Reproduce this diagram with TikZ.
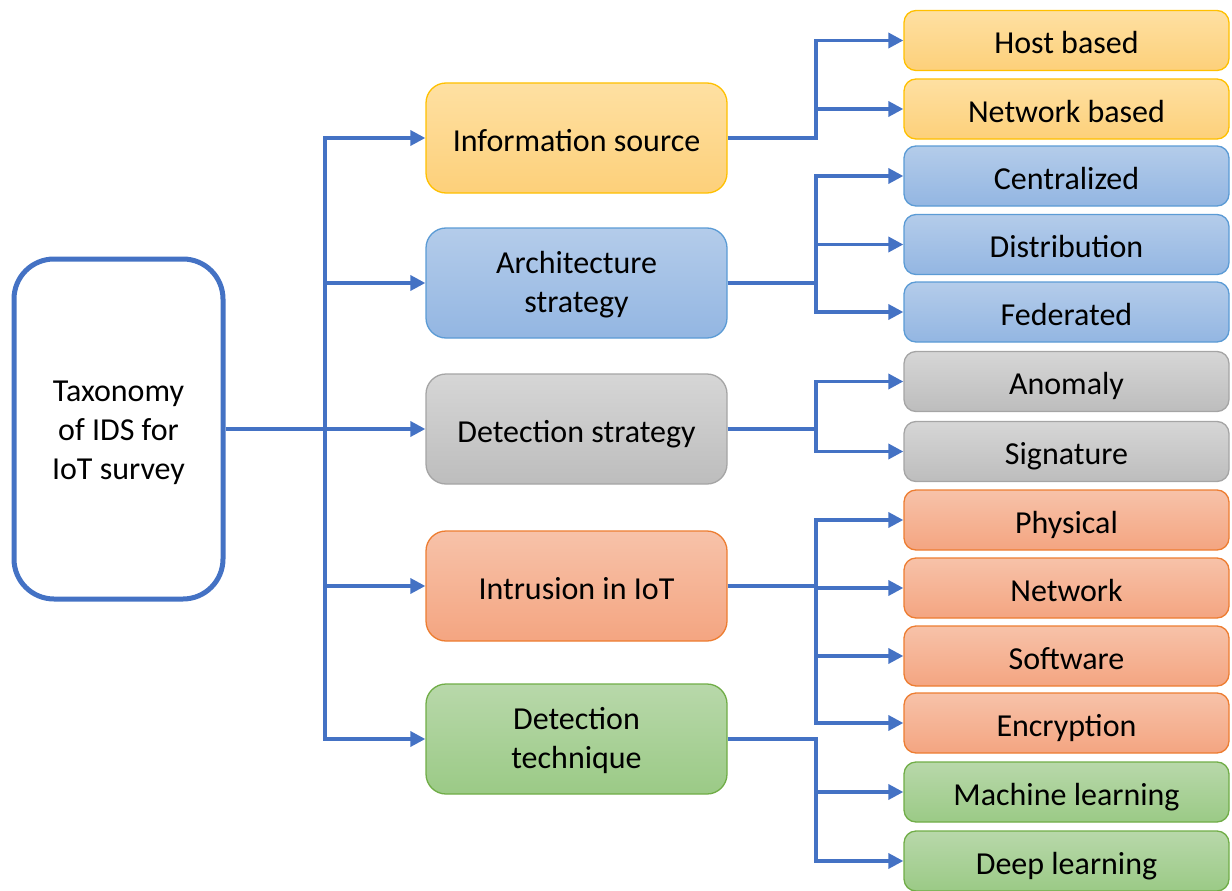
\documentclass[tikz,border=0pt]{standalone}
\usepackage{fontspec}
\setmainfont{Carlito}
\usetikzlibrary{arrows.meta}
\definecolor{connc}{HTML}{4472C4}
\definecolor{yelB}{HTML}{FFC000}\definecolor{yelT}{HTML}{FEE0A2}\definecolor{yelD}{HTML}{FDD07A}
\definecolor{bluB}{HTML}{5B9BD5}\definecolor{bluT}{HTML}{B4CCEA}\definecolor{bluD}{HTML}{93B6E2}
\definecolor{gryB}{HTML}{A5A5A5}\definecolor{gryT}{HTML}{D6D6D6}\definecolor{gryD}{HTML}{BDBDBD}
\definecolor{orgB}{HTML}{ED7D31}\definecolor{orgT}{HTML}{F7C2A9}\definecolor{orgD}{HTML}{F4A581}
\definecolor{grnB}{HTML}{70AD47}\definecolor{grnT}{HTML}{B8D8AA}\definecolor{grnD}{HTML}{9BCA86}
\begin{document}
\begin{tikzpicture}[x=1pt,y=-1pt,
  font=\fontsize{32}{39}\selectfont,
  box/.style={draw, line width=1.3pt, inner sep=0pt, align=center},
  oneline/.style={text height=28pt, text depth=2pt},
  twoline/.style={text height=62pt, text depth=4pt},
  midbox/.style={box, minimum width=301pt, minimum height=110pt, rounded corners=20pt},
  leafbox/.style={box, oneline, minimum width=325pt, minimum height=60pt, rounded corners=12pt},
  yel/.style={draw=yelB, top color=yelT, bottom color=yelD},
  blu/.style={draw=bluB, top color=bluT, bottom color=bluD},
  gry/.style={draw=gryB, top color=gryT, bottom color=gryD},
  org/.style={draw=orgB, top color=orgT, bottom color=orgD},
  grn/.style={draw=grnB, top color=grnT, bottom color=grnD},
  conn/.style={draw=connc, line width=3.5pt},
  arr/.style={conn, -{Triangle[length=15pt,width=15pt]}}]
\useasboundingbox (0,0) rectangle (1232,891);

\node[draw=connc, line width=5pt, rounded corners=40pt, minimum width=209pt,
      minimum height=340pt, align=center, fill=white, text height=104pt, text depth=4pt] (root) at (118.5,429)
      {Taxonomy\\of IDS for\\IoT survey};

\node[midbox,yel,oneline] (info) at (576.5,138) {Information source};
\node[midbox,blu,twoline] (arch) at (576.5,283) {Architecture\\strategy};
\node[midbox,gry,oneline] (dets) at (576.5,429) {Detection strategy};
\node[midbox,org,oneline] (intr) at (576.5,586) {Intrusion in IoT};
\node[midbox,grn,twoline] (tech) at (576.5,739) {Detection\\technique};

\node[leafbox,yel] (host) at (1066.5,40.5) {Host based};
\node[leafbox,yel] (netb) at (1066.5,109) {Network based};
\node[leafbox,blu] (cent) at (1066.5,176) {Centralized};
\node[leafbox,blu] (dist) at (1066.5,244.5) {Distribution};
\node[leafbox,blu] (fed)  at (1066.5,312) {Federated};
\node[leafbox,gry] (anom) at (1066.5,381.5) {Anomaly};
\node[leafbox,gry] (sig)  at (1066.5,451.5) {Signature};
\node[leafbox,org] (phys) at (1066.5,520) {Physical};
\node[leafbox,org] (netw) at (1066.5,588) {Network};
\node[leafbox,org] (soft) at (1066.5,656) {Software};
\node[leafbox,org] (enc)  at (1066.5,723) {Encryption};
\node[leafbox,grn] (ml)   at (1066.5,792) {Machine learning};
\node[leafbox,grn] (dl)   at (1066.5,861) {Deep learning};

\coordinate (trunk) at (325,0);
\coordinate (br) at (816,0);

% root to middle level
\draw[arr] (root.east) -- (trunk|-root.east) -- (trunk|-info.west) -- (info.west);
\draw[arr] (root.east) -- (trunk|-root.east) -- (trunk|-tech.west) -- (tech.west);
\draw[arr] (trunk|-arch.west) -- (arch.west);
\draw[arr] (trunk|-dets.west) -- (dets.west);
\draw[arr] (trunk|-intr.west) -- (intr.west);

% information source
\draw[arr] (info.east) -- (br|-info.east) -- (br|-host.west) -- (host.west);
\draw[arr] (br|-netb.west) -- (netb.west);

% architecture
\draw[arr] (arch.east) -- (br|-arch.east) -- (br|-cent.west) -- (cent.west);
\draw[arr] (arch.east) -- (br|-arch.east) -- (br|-fed.west) -- (fed.west);
\draw[arr] (br|-dist.west) -- (dist.west);

% detection strategy
\draw[arr] (dets.east) -- (br|-dets.east) -- (br|-anom.west) -- (anom.west);
\draw[arr] (dets.east) -- (br|-dets.east) -- (br|-sig.west) -- (sig.west);

% intrusion
\draw[arr] (intr.east) -- (br|-intr.east) -- (br|-phys.west) -- (phys.west);
\draw[arr] (intr.east) -- (br|-intr.east) -- (br|-enc.west) -- (enc.west);
\draw[arr] (br|-netw.west) -- (netw.west);
\draw[arr] (br|-soft.west) -- (soft.west);

% technique
\draw[arr] (tech.east) -- (br|-tech.east) -- (br|-dl.west) -- (dl.west);
\draw[arr] (br|-ml.west) -- (ml.west);
\end{tikzpicture}
\end{document}
